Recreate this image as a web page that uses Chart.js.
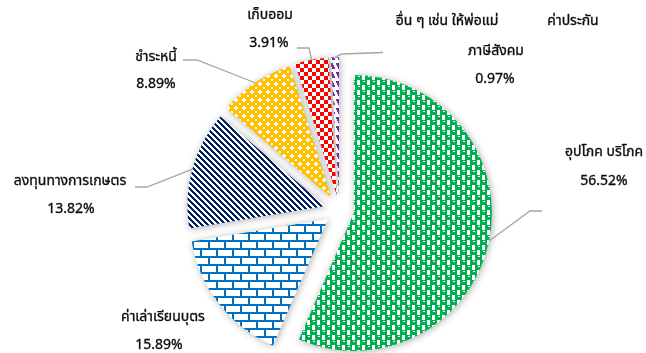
<!DOCTYPE html>
<html>
<head>
<meta charset="utf-8">
<script src="https://cdn.jsdelivr.net/npm/chart.js@4/dist/chart.umd.min.js"></script>
<style>
  html, body { margin: 0; padding: 0; background: #ffffff; }
  #c { display: block; }
</style>
</head>
<body>
<canvas id="c" width="646" height="353"></canvas>
<script>
// Household spending shares (percent)
const categories = [
  'อุปโภค บริโภค',
  'ค่าเล่าเรียนบุตร',
  'ลงทุนทางการเกษตร',
  'ชำระหนี้',
  'เก็บออม',
  'อื่น ๆ เช่น ให้พ่อแม่ ค่าประกัน ภาษีสังคม'
];
const shares = [56.52, 15.89, 13.82, 8.89, 3.91, 0.97];
const shareLabels = ['56.52%', '15.89%', '13.82%', '8.89%', '3.91%', '0.97%'];

// How each category name wraps in its label box
const categoryLines = [
  [['อุปโภค บริโภค']],
  [['ค่าเล่าเรียนบุตร']],
  [['ลงทุนทางการเกษตร']],
  [['ชำระหนี้']],
  [['เก็บออม']],
  [['อื่น ๆ เช่น ให้พ่อแม่', 'ค่าประกัน'], ['ภาษีสังคม']]
];

const PIE_RADIUS = 138;
const EXPLODE = 14.7;
const FONT = "14px Tahoma, 'Noto Sans Thai', 'Noto Sans', 'DejaVu Sans', sans-serif";
const TEXT_COLOR = '#0d0d0d';
const LEADER_COLOR = '#a6a6a6';

// ---- fill patterns -------------------------------------------------------
function tile(w, h, paint) {
  const c = document.createElement('canvas');
  c.width = w; c.height = h;
  const g = c.getContext('2d');
  g.fillStyle = '#ffffff';
  g.fillRect(0, 0, w, h);
  paint(g);
  return document.getElementById('c').getContext('2d').createPattern(c, 'repeat');
}

// green "sphere" cells, staggered row to row, each with a small highlight
const sphereGreen = tile(10, 10, g => {
  const cell = (ox, oy) => {
    const px = (x, y) => g.fillRect((ox + x) % 10, (oy + y) % 10, 1, 1);
    g.fillStyle = '#00b050';
    for (let y = 0; y < 5; y++) for (let x = 0; x < 7; x++) px(x, y);
    g.fillStyle = '#ffffff';
    px(3, 1); px(4, 1);
  };
  cell(0, 0);
  cell(5, 5);
});

const brickBlue = tile(16, 16, g => {
  g.fillStyle = '#0070c0';
  g.fillRect(0, 0, 16, 2);
  g.fillRect(0, 8, 16, 2);
  g.fillRect(0, 2, 2, 6);
  g.fillRect(8, 10, 2, 6);
});

const stripeNavy = tile(6, 6, g => {
  g.fillStyle = '#002060';
  for (let y = 0; y < 6; y++) {
    for (let x = 0; x < 6; x++) {
      if (((x - y) % 6 + 6) % 6 < 3) g.fillRect(x, y, 1, 1);
    }
  }
});

const gridYellow = tile(8, 8, g => {
  g.fillStyle = '#ffc000';
  g.fillRect(0, 0, 8, 8);
  g.fillStyle = '#ffffff';
  g.fillRect(3, 2, 2, 4);
  g.fillRect(2, 3, 4, 2);
  g.fillRect(7, 7, 1, 1);
  g.fillRect(0, 0, 1, 1);
  g.fillRect(7, 0, 1, 1);
  g.fillRect(0, 7, 1, 1);
});

const checkerRed = tile(8, 8, g => {
  g.fillStyle = '#ff0000';
  g.fillRect(0, 0, 4, 4);
  g.fillRect(4, 4, 4, 4);
});

const dashPurple = tile(6, 9, g => {
  g.fillStyle = '#7030a0';
  for (let t = 0; t < 6; t++) g.fillRect(Math.floor(t / 2), t, 3, 1);
});

const fills = [sphereGreen, brickBlue, stripeNavy, gridYellow, checkerRed, dashPurple];

// ---- label placement (text centres and leader elbows) ---------------------
const labelPlacement = [
  { rows: [[[604, 153]]], pct: [604, 182], leader: [[542, 211], [530, 211]] },
  { rows: [[[163, 318]]], pct: [159, 346], leader: null },
  { rows: [[[70, 182]]],  pct: [71, 210],  leader: [[135, 187], [147, 187]] },
  { rows: [[[156, 58]]],  pct: [156, 85],  leader: [[183, 60], [197, 60]] },
  { rows: [[[270, 16]]],  pct: [269, 44],  leader: [[297, 48], [309, 48]] },
  { rows: [[[447, 22], [573, 22]], [[496, 52]]], pct: [495, 80], leader: [[383, 52.5], [342, 54]] }
];

// Pull every slice outward along its bisector by a fixed distance.
const explodeSlices = {
  id: 'explodeSlices',
  afterDatasetsUpdate(chart) {
    const area = chart.chartArea;
    const cx = (area.left + area.right) / 2;
    const cy = (area.top + area.bottom) / 2;
    chart.getDatasetMeta(0).data.forEach(arc => {
      const mid = (arc.startAngle + arc.endAngle) / 2;
      arc.x = cx + EXPLODE * Math.cos(mid);
      arc.y = cy + EXPLODE * Math.sin(mid);
    });
  }
};

// Soft drop shadow under the slices.
const sliceShadow = {
  id: 'sliceShadow',
  beforeDatasetDraw(chart) {
    const ctx = chart.ctx;
    ctx.save();
    ctx.shadowColor = 'rgba(0,0,0,0.32)';
    ctx.shadowBlur = 7;
    ctx.shadowOffsetX = 1;
    ctx.shadowOffsetY = 1;
  },
  afterDatasetDraw(chart) {
    chart.ctx.restore();
  }
};

// Category names, percentages and leader lines.
const sliceLabels = {
  id: 'sliceLabels',
  afterDatasetsDraw(chart) {
    const ctx = chart.ctx;
    const arcs = chart.getDatasetMeta(0).data;
    const put = (txt, p) => {
      ctx.fillText(txt, p[0], p[1]);
      ctx.strokeText(txt, p[0], p[1]);
    };
    ctx.save();
    ctx.font = FONT;
    ctx.textAlign = 'center';
    ctx.textBaseline = 'middle';
    arcs.forEach((arc, i) => {
      const place = labelPlacement[i];
      if (place.leader) {
        const mid = (arc.startAngle + arc.endAngle) / 2;
        const ex = arc.x + arc.outerRadius * Math.cos(mid);
        const ey = arc.y + arc.outerRadius * Math.sin(mid);
        ctx.beginPath();
        ctx.moveTo(place.leader[0][0], place.leader[0][1]);
        ctx.lineTo(place.leader[1][0], place.leader[1][1]);
        ctx.lineTo(ex, ey);
        ctx.strokeStyle = LEADER_COLOR;
        ctx.lineWidth = 1.3;
        ctx.stroke();
      }
      ctx.fillStyle = TEXT_COLOR;
      ctx.strokeStyle = TEXT_COLOR;
      ctx.lineWidth = 0.35;
      categoryLines[i].forEach((parts, r) => {
        parts.forEach((txt, k) => put(txt, place.rows[r][k]));
      });
      put(shareLabels[i], place.pct);
    });
    ctx.restore();
  }
};

new Chart(document.getElementById('c'), {
  type: 'pie',
  data: {
    labels: categories,
    datasets: [{
      data: shares,
      backgroundColor: fills,
      borderWidth: 0,
      clip: false
    }]
  },
  options: {
    responsive: false,
    animation: false,
    events: [],
    radius: PIE_RADIUS,
    layout: { padding: { left: 33, right: 0, top: 67, bottom: 0 } },
    plugins: {
      legend: { display: false },
      tooltip: { enabled: false },
      title: { display: false }
    }
  },
  plugins: [explodeSlices, sliceShadow, sliceLabels]
});
</script>
</body>
</html>
